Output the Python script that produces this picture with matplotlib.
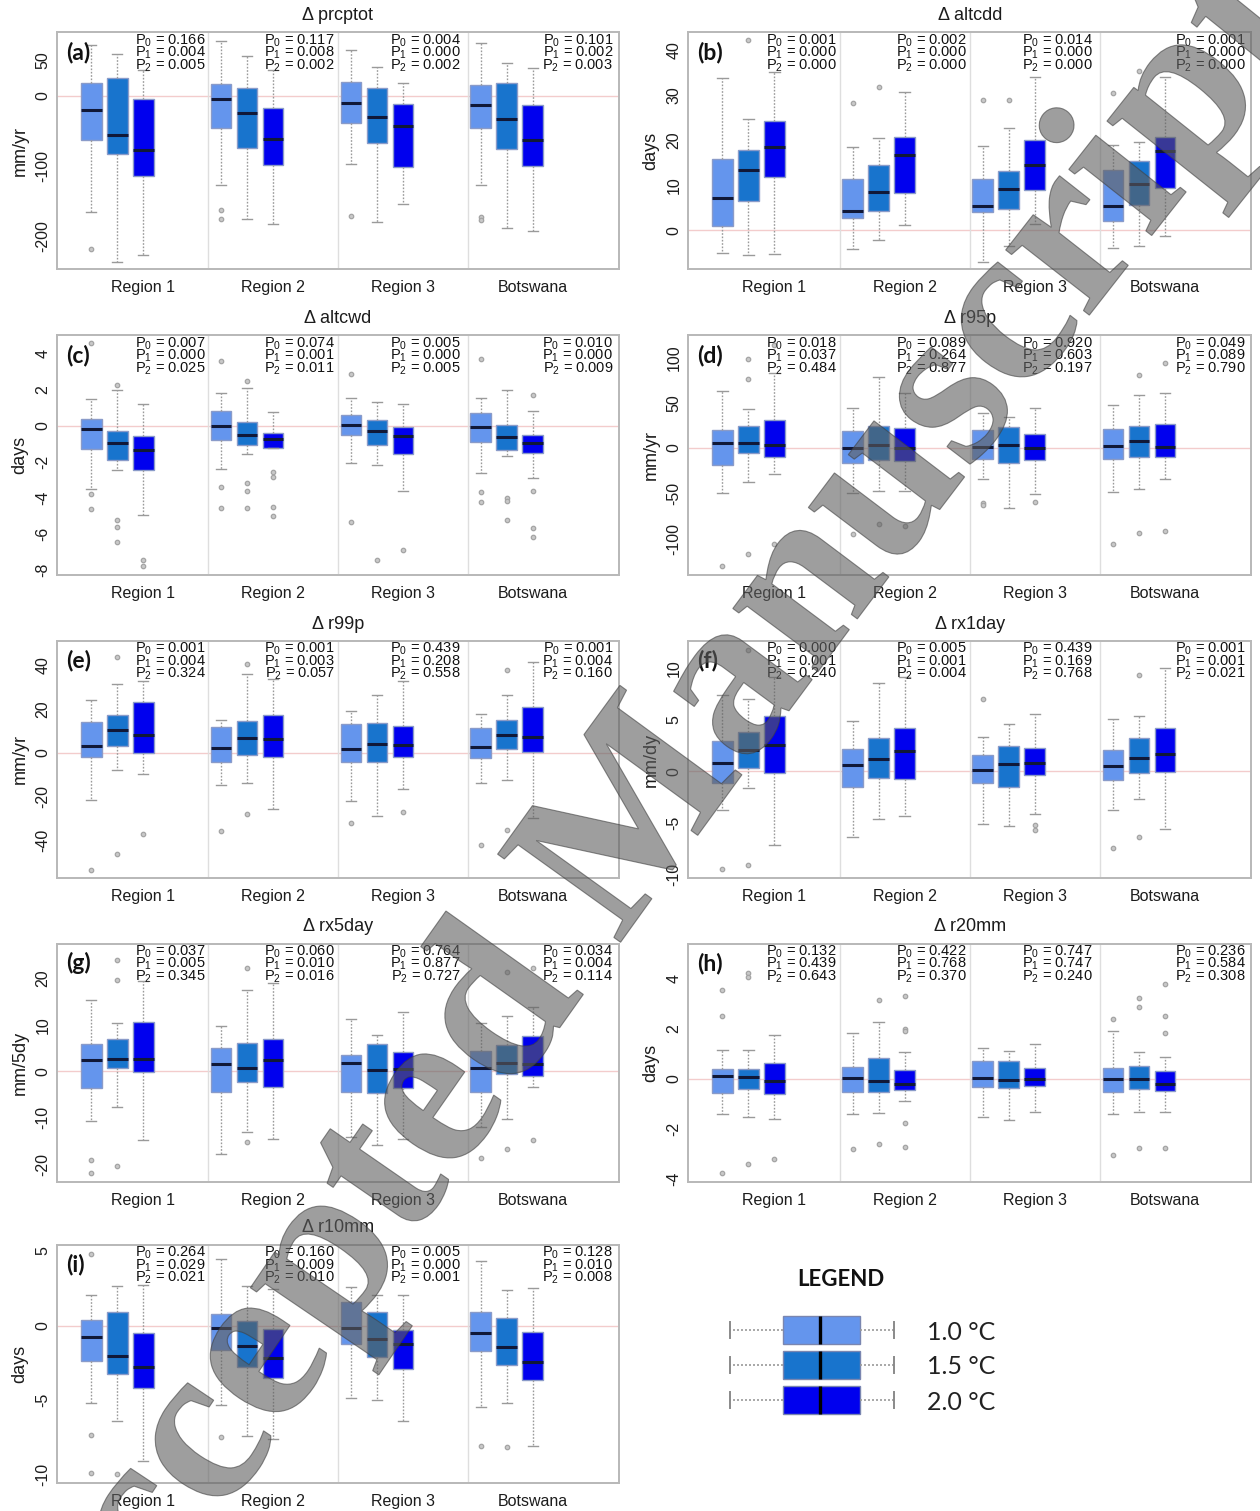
import numpy as np
import matplotlib
matplotlib.use("Agg")
import matplotlib.pyplot as plt
from matplotlib.patches import PathPatch
from matplotlib.path import Path
from matplotlib.textpath import TextPath
from matplotlib.font_manager import FontProperties
from matplotlib.transforms import IdentityTransform, blended_transform_factory

plt.rcParams['font.family'] = ['Liberation Sans', 'DejaVu Sans']
plt.rcParams['mathtext.fontset'] = 'custom'
plt.rcParams['mathtext.rm'] = 'Liberation Sans'
plt.rcParams['mathtext.it'] = 'Liberation Sans:italic'
plt.rcParams['mathtext.bf'] = 'Liberation Sans:bold'
plt.rcParams['axes.unicode_minus'] = False

GROUPS = ["Region 1", "Region 2", "Region 3", "Botswana"]
WARMING = ["1.0 °C", "1.5 °C", "2.0 °C"]
COLORS = ["#6495ED", "#1874CD", "#0000EE"]

# box stats per panel: (whisker low, q1, median, q3, whisker high), 3 boxes x 4 groups
PRCPTOT_STATS = [(-166, -63.5, -20.4, 17.5, 72), (-236, -83.4, -55.5, 25.6, 59), (-226.5, -113.7, -76.8, -4.7, 36),
                 (-127.5, -46.4, -4.3, 16, 77.7), (-175, -74.9, -25, 11.4, 56.4), (-182.5, -98.6, -62, -17, 36.5),
                 (-96.7, -39.3, -10.9, 19, 64.5), (-179.6, -66.8, -30.8, 10.9, 41.2), (-154.5, -101.9, -43, -11.4, 18.5),
                 (-127.5, -45.5, -13.7, 14.7, 74.4), (-187.7, -75.4, -33.6, 17.5, 46), (-192.4, -99.5, -63.5, -12.8, 39.8)]
PRCPTOT_FLIERS = [[-218], [], [], [-162.6, -175], [], [], [-170.6], [], [], [-172, -176.8], [], []]
PRCPTOT_P = [[0.166, 0.004, 0.005], [0.117, 0.008, 0.002], [0.004, 0.000, 0.002], [0.101, 0.002, 0.003]]

ALTCDD_STATS = [(-4.9, 1.0, 7.1, 15.8, 33.8), (-5.5, 6.6, 13.3, 17.8, 24.8), (-5.2, 11.8, 18.6, 24.2, 35.2),
                (-4.1, 2.8, 4.3, 11.3, 18.6), (-2.0, 4.4, 8.6, 14.5, 20.4), (1.3, 8.2, 16.7, 20.8, 30.6),
                (-6.9, 4.1, 5.5, 11.4, 18.8), (-3.5, 4.7, 9.1, 13.2, 22.8), (1.5, 8.9, 14.4, 20.0, 34.1),
                (-3.8, 2.2, 5.5, 13.3, 18.9), (-3.5, 5.7, 10.3, 15.3, 19.7), (-1.3, 9.5, 17.7, 20.8, 33.9)]
ALTCDD_FLIERS = [[], [42.1], [], [28.2], [31.7], [], [29.0], [29.0], [], [30.4], [35.4], []]
ALTCDD_P = [[0.001, 0.000, 0.000], [0.002, 0.000, 0.000], [0.014, 0.000, 0.000], [0.001, 0.000, 0.000]]

ALTCWD_STATS = [(-3.55, -1.28, -0.22, 0.35, 1.47), (-2.47, -1.93, -0.95, -0.33, 2.0), (-4.95, -2.49, -1.34, -0.58, 1.17),
                (-2.42, -0.8, 0.0, 0.8, 1.82), (-1.6, -1.08, -0.52, 0.17, 2.08), (-1.25, -1.25, -0.76, -0.41, 0.73),
                (-2.07, -0.5, 0.04, 0.6, 1.54), (-2.2, -1.08, -0.3, 0.33, 1.3), (-3.65, -1.56, -0.6, -0.07, 1.17),
                (-2.66, -0.89, -0.07, 0.69, 1.54), (-1.67, -1.34, -0.65, 0.02, 1.97), (-2.92, -1.53, -0.99, -0.52, 0.82)]
ALTCWD_FLIERS = [[4.58, -3.8, -4.63], [2.25, -5.23, -5.62, -6.49], [-7.46, -7.78],
                 [3.57, -3.42, -4.6], [2.49, -3.18, -3.63, -4.6], [-2.6, -2.88, -4.5, -5.02],
                 [2.87, -5.34], [-7.48], [-6.9],
                 [3.7, -3.7, -4.26], [-4.02, -4.2, -5.27], [1.67, -3.61, -5.69, -6.2]]
ALTCWD_P = [[0.007, 0.000, 0.025], [0.074, 0.001, 0.011], [0.005, 0.000, 0.005], [0.010, 0.000, 0.009]]

R95P_STATS = [(-49.7, -19.0, 5.9, 20.1, 62.9), (-38.0, -5.1, 5.1, 23.8, 42.8), (-28.9, -9.9, 2.9, 31.1, 83),
              (-49.7, -16.8, 0.4, 18.3, 43.9), (-47.5, -13.2, 3.7, 23.8, 77.9), (-47.2, -13.9, 0.4, 21.6, 61.1),
              (-34.0, -12.1, 1.5, 19.4, 39.1), (-66.2, -16.8, 3.3, 23.4, 34.4), (-50.5, -13.5, -0.4, 15.4, 44.6),
              (-49, -12.4, 2.2, 20.5, 47.9), (-45.7, -9.9, 7.3, 23.8, 58.5), (-34.4, -9.9, 0.7, 26, 60.3)]
R95P_FLIERS = [[-129.8], [97.6, 76.4, -117], [114, -105.7],
               [-95], [-84.1], [-85.9],
               [-60.7, -63.3], [], [-60],
               [-105.3], [80.4, -93.2], [93.2, -91.4]]
R95P_P = [[0.018, 0.037, 0.484], [0.089, 0.264, 0.877], [0.920, 0.603, 0.197], [0.049, 0.089, 0.790]]

R99P_STATS = [(-21.6, -2.1, 3.2, 13.9, 24.4), (-7.8, 3.2, 10.3, 17.2, 31.3), (-9.8, 0.0, 8.3, 23.1, 33),
              (-14.7, -4.3, 2.1, 11.8, 14.9), (-13.9, -1.2, 6.7, 14.4, 36.2), (-25.7, -1.8, 6.4, 17.2, 33.6),
              (-22.1, -4.3, 1.7, 13.3, 19.3), (-28.7, -4.3, 4.0, 13.5, 26.7), (-16.4, -1.7, 3.7, 12.4, 33.1),
              (-13.9, -2.5, 2.9, 11.5, 17.9), (-12.4, 1.8, 8.0, 15.2, 26.7), (-30.0, 0.3, 7.4, 20.8, 41.5)]
R99P_FLIERS = [[-53.5], [43.8, -46.1], [-37.1], [-35.6], [40.5, -28.2], [],
               [-31.9], [], [-27.1], [-42], [37.9, -35.4], []]
R99P_P = [[0.001, 0.004, 0.324], [0.001, 0.003, 0.057], [0.439, 0.208, 0.558], [0.001, 0.004, 0.160]]

RX1DAY_STATS = [(-3.75, -1.15, 0.83, 2.88, 7.34), (-1.6, 0.26, 2.05, 3.75, 7.0), (-7.15, -0.22, 2.53, 5.32, 9.1),
                (-6.35, -1.54, 0.58, 2.18, 4.84), (-4.68, -0.7, 1.19, 3.24, 8.56), (-4.3, -0.77, 1.96, 4.13, 9.1),
                (-5.1, -1.19, 0.13, 1.54, 3.3), (-5.35, -1.57, 0.7, 2.4, 4.58), (-4.13, -0.42, 0.74, 2.21, 5.51),
                (-3.75, -0.87, 0.45, 2.02, 5.03), (-2.66, -0.19, 1.31, 3.24, 5.32), (-5.58, -0.06, 1.7, 4.2, 9.97)]
RX1DAY_FLIERS = [[-9.52], [11.7, -9.1], [], [], [], [],
                 [6.96], [], [-5.19, -5.7], [-7.47], [9.33, -6.38], []]
RX1DAY_P = [[0.000, 0.001, 0.240], [0.005, 0.001, 0.004], [0.439, 0.169, 0.768], [0.001, 0.001, 0.021]]

RX5DAY_STATS = [(-10.7, -3.5, 2.44, 5.95, 15.3), (-7.6, 0.8, 2.72, 6.9, 10.3), (-14.8, -0.07, 2.72, 10.6, 19.4),
                (-17.8, -4.37, 1.58, 5.0, 9.68), (-13.1, -2.22, 0.72, 6.16, 17.6), (-14.55, -3.3, 2.37, 6.95, 19.0),
                (-14.2, -4.44, 1.86, 3.51, 11.3), (-15.8, -4.73, 0.29, 5.88, 7.89), (-14.5, -3.58, 0.43, 4.09, 12.8),
                (-12.0, -4.44, 0.72, 4.44, 10.5), (-10.2, -0.65, 1.79, 5.6, 12.0), (-3.44, -0.93, 1.65, 7.6, 13.8)]
RX5DAY_FLIERS = [[-19.0, -21.9], [24.0, 19.6, -20.3], [], [], [22.2, -15.3], [],
                 [], [], [], [-18.7], [21.3, -16.7], [22.2, -14.7]]
RX5DAY_P = [[0.037, 0.005, 0.345], [0.060, 0.010, 0.016], [0.764, 0.877, 0.727], [0.034, 0.004, 0.114]]

R20MM_STATS = [(-1.42, -0.59, 0.12, 0.4, 1.15), (-1.55, -0.41, 0.07, 0.4, 1.15), (-1.62, -0.62, -0.08, 0.64, 1.73),
               (-1.4, -0.54, 0.01, 0.45, 1.83), (-1.36, -0.52, -0.11, 0.82, 2.25), (-0.88, -0.47, -0.2, 0.36, 1.06),
               (-1.55, -0.32, 0.03, 0.7, 1.23), (-1.65, -0.37, -0.04, 0.7, 1.1), (-1.34, -0.31, 0.0, 0.43, 1.39),
               (-1.42, -0.52, -0.01, 0.44, 1.91), (-1.35, -0.41, 0.0, 0.51, 1.06), (-1.35, -0.48, -0.2, 0.32, 0.86)]
R20MM_FLIERS = [[3.53, 2.52, -3.79], [4.24, 4.07, -3.42], [-3.22],
                [-2.82], [3.13, -2.62], [3.29, 1.99, 1.89, -1.78, -2.73],
                [], [], [],
                [2.37, -3.05], [3.24, 2.88, -2.78], [3.77, 2.49, 1.82, -2.78]]
R20MM_P = [[0.132, 0.439, 0.643], [0.422, 0.768, 0.370], [0.747, 0.747, 0.240], [0.236, 0.584, 0.308]]

R10MM_STATS = [(-5.2, -2.37, -0.76, 0.36, 2.08), (-6.38, -3.24, -2.03, 0.92, 2.66), (-9.1, -4.17, -2.81, -0.49, 2.72),
               (-5.31, -1.65, -0.18, 0.74, 4.44), (-7.39, -2.77, -1.34, 0.33, 2.66), (-7.61, -3.5, -2.19, -0.2, 2.46),
               (-4.89, -1.27, -0.18, 1.58, 2.61), (-4.98, -2.14, -0.89, 0.89, 2.05), (-6.38, -2.92, -1.23, -0.27, 2.05),
               (-5.49, -1.7, -0.47, 0.89, 4.33), (-5.2, -2.63, -1.45, 0.51, 2.37), (-8.06, -3.62, -2.43, -0.45, 2.52)]
R10MM_FLIERS = [[4.78, -7.37, -9.89], [-9.96], [], [-7.46], [], [],
                [], [], [], [-8.06], [-8.15], []]
R10MM_P = [[0.264, 0.029, 0.021], [0.160, 0.009, 0.010], [0.005, 0.000, 0.001], [0.128, 0.010, 0.008]]

PANELS = [
    dict(tag="(a)", title="Δ prcptot", ylabel="mm/yr", yticks=[-200, -100, 0, 50], ylim=(-247, 90),
         stats=PRCPTOT_STATS, fliers=PRCPTOT_FLIERS, p=PRCPTOT_P),
    dict(tag="(b)", title="Δ altcdd", ylabel="days", yticks=[0, 10, 20, 30, 40], ylim=(-8.6, 43.9),
         stats=ALTCDD_STATS, fliers=ALTCDD_FLIERS, p=ALTCDD_P),
    dict(tag="(c)", title="Δ altcwd", ylabel="days", yticks=[-8, -6, -4, -2, 0, 2, 4], ylim=(-8.3, 5.0),
         stats=ALTCWD_STATS, fliers=ALTCWD_FLIERS, p=ALTCWD_P),
    dict(tag="(d)", title="Δ r95p", ylabel="mm/yr", yticks=[-100, -50, 0, 50, 100], ylim=(-140, 124),
         stats=R95P_STATS, fliers=R95P_FLIERS, p=R95P_P),
    dict(tag="(e)", title="Δ r99p", ylabel="mm/yr", yticks=[-40, -20, 0, 20, 40], ylim=(-57.3, 51.2),
         stats=R99P_STATS, fliers=R99P_FLIERS, p=R99P_P),
    dict(tag="(f)", title="Δ rx1day", ylabel="mm/dy", yticks=[-10, -5, 0, 5, 10], ylim=(-10.35, 12.6),
         stats=RX1DAY_STATS, fliers=RX1DAY_FLIERS, p=RX1DAY_P),
    dict(tag="(g)", title="Δ rx5day", ylabel="mm/5dy", yticks=[-20, -10, 0, 10, 20], ylim=(-23.7, 27.5),
         stats=RX5DAY_STATS, fliers=RX5DAY_FLIERS, p=RX5DAY_P),
    dict(tag="(h)", title="Δ r20mm", ylabel="days", yticks=[-4, -2, 0, 2, 4], ylim=(-4.12, 5.4),
         stats=R20MM_STATS, fliers=R20MM_FLIERS, p=R20MM_P),
    dict(tag="(i)", title="Δ r10mm", ylabel="days", yticks=[-10, -5, 0, 5], ylim=(-10.56, 5.4),
         stats=R10MM_STATS, fliers=R10MM_FLIERS, p=R10MM_P),
]

# layout (pixels of the 1260x1511 canvas)
FIG_W, FIG_H = 1260, 1511
COL_X = [(57.4, 618.5), (688.5, 1251)]
ROW_Y = [(32.3, 269.3), (335.5, 575), (641, 878), (943.5, 1181.5), (1245, 1483)]
POSITIONS = [1, 2, 3, 6, 7, 8, 11, 12, 13, 16, 17, 18]
LABEL_POS = [3, 8, 13, 18]
SEPARATORS = [5.5, 10.5, 15.5]
P_X = [5.4, 10.38, 15.23, 21.09]

EDGE = "#8a9bc9"
MEDIAN = "#101838"
WHISK = "#9a9a9a"
FLIER = "#a4a4a4"
TEXT = "#1c1c1c"


def px_rect(x0, y0, x1, y1):
    return [x0 / FIG_W, 1 - y1 / FIG_H, (x1 - x0) / FIG_W, (y1 - y0) / FIG_H]


def draw_panel(ax, spec):
    stats = [dict(whislo=s[0], q1=s[1], med=s[2], q3=s[3], whishi=s[4], fliers=f)
             for s, f in zip(spec["stats"], spec["fliers"])]
    ax.axhline(0, color="#f3cccc", lw=1.0, zorder=0)
    for x in SEPARATORS:
        ax.axvline(x, color="#dedede", lw=1.0, zorder=0)
    bp = ax.bxp(stats, positions=POSITIONS, widths=0.8, patch_artist=True, capwidths=0.4,
                boxprops=dict(edgecolor=EDGE, linewidth=1.0),
                medianprops=dict(color=MEDIAN, linewidth=2.2, solid_capstyle="butt"),
                whiskerprops=dict(color=WHISK, linewidth=1.0, linestyle=(0, (1.2, 1.2))),
                capprops=dict(color=WHISK, linewidth=1.0),
                flierprops=dict(marker="o", markersize=3.2, markerfacecolor="#c8c8c8",
                                markeredgecolor=FLIER, markeredgewidth=0.9))
    for i, patch in enumerate(bp["boxes"]):
        patch.set_facecolor(COLORS[i % 3])

    ax.set_xlim(-0.3, 21.3)
    ax.set_ylim(*spec["ylim"])
    ax.set_xticks(LABEL_POS, GROUPS)
    ax.set_yticks(spec["yticks"])
    ax.tick_params(axis="x", length=0, pad=8, labelsize=11.5, labelcolor=TEXT)
    ax.tick_params(axis="y", length=0, pad=5, labelsize=11.5, labelcolor=TEXT, labelrotation=90)
    for lab in ax.get_yticklabels():
        lab.set_va("center")
    for sp in ax.spines.values():
        sp.set_color("#b8b8b8")
        sp.set_linewidth(1.4)

    h = ax.get_position().height * FIG_H
    w = ax.get_position().width * FIG_W
    ax.set_ylabel(spec["ylabel"], fontsize=13, color=TEXT)
    ax.yaxis.set_label_coords(-29 / w, 0.5)
    ax.text(0.5, 1 + 17 / h, spec["title"], transform=ax.transAxes, ha="center", va="center",
            fontsize=13, color=TEXT)
    ax.text(0.016, 1 - 19.7 / h, spec["tag"], transform=ax.transAxes, ha="left", va="center",
            fontsize=16.5, fontweight="bold", family=["Lato", "DejaVu Sans"], color="#111111")

    trans = blended_transform_factory(ax.transData, ax.transAxes)
    for g, pvals in enumerate(spec["p"]):
        for k, p in enumerate(pvals):
            off = 12.0 + 12.4 * k
            ax.text(P_X[g], 1 - off / h, rf"P$_{k}$ = {p:.3f}", transform=trans, ha="right",
                    va="baseline", fontsize=10.5, color="#111111")


def draw_legend(fig):
    fig.text(841 / FIG_W, 1 - 1280 / FIG_H, "LEGEND", ha="center", va="center", fontsize=16,
             fontweight="bold", family=["Lato", "DejaVu Sans"], color="#111111")
    ax = fig.add_axes(px_rect(727, 1312.5, 897, 1417.5))
    glyph = [dict(whislo=0.2, q1=3.3, med=5.45, q3=7.8, whishi=9.8, fliers=[]) for _ in WARMING]
    kw = dict(positions=[1, 2, 3], widths=0.78, patch_artist=True, capwidths=0.45,
              boxprops=dict(edgecolor="#7a86b0", linewidth=1.0),
              medianprops=dict(color="#000000", linewidth=2.4, solid_capstyle="butt"),
              whiskerprops=dict(color=WHISK, linewidth=1.2, linestyle=(0, (1.2, 1.2))),
              capprops=dict(color="#8a8a8a", linewidth=1.4))
    try:
        bp = ax.bxp(glyph, orientation="horizontal", **kw)
    except TypeError:
        bp = ax.bxp(glyph, vert=False, **kw)
    for i, patch in enumerate(bp["boxes"]):
        patch.set_facecolor(COLORS[i])
    ax.set_xlim(0, 10)
    ax.set_ylim(3.5, 0.5)
    ax.axis("off")
    for i, lab in enumerate(WARMING):
        y = 1330 + 35 * i
        fig.text(927 / FIG_W, 1 - (y + 2) / FIG_H, lab, ha="left", va="center", fontsize=18,
                 family=["Lato", "DejaVu Sans"], color="#222222")


def draw_watermark(fig):
    # curved "Accepted Manuscript" stamp laid along a circular arc
    fp = FontProperties(family="Liberation Serif", weight="bold")
    em = 231.0
    word = "Accepted Manuscript"
    tp = TextPath((0, 0), word, size=em, prop=fp)
    c2 = TextPath((0, 0), "Acc", size=em, prop=fp).get_extents()
    u0 = c2.x1 - 0.21 * em          # centre of the second 'c'
    vc = 0.23 * em                  # mid x-height above baseline
    cx, cy, R = 16384.7, FIG_H - 12236.5, 19445.6
    phi0 = np.arctan2((FIG_H - 1450) - cy, 205 - cx)
    v = tp.vertices
    phi = phi0 - (v[:, 0] - u0) / R
    r = R + v[:, 1] - vc
    verts = np.column_stack([cx + r * np.cos(phi), cy + r * np.sin(phi)])
    patch = PathPatch(Path(verts, tp.codes), transform=IdentityTransform(),
                      facecolor=(0.37, 0.37, 0.37, 0.6), edgecolor=(0.25, 0.25, 0.25, 0.6),
                      linewidth=0.8, zorder=50)
    fig.add_artist(patch)


fig = plt.figure(figsize=(FIG_W / 100, FIG_H / 100), dpi=100)
for idx, spec in enumerate(PANELS):
    row, col = divmod(idx, 2)
    x0, x1 = COL_X[col]
    y0, y1 = ROW_Y[row]
    ax = fig.add_axes(px_rect(x0, y0, x1, y1))
    draw_panel(ax, spec)

draw_legend(fig)
draw_watermark(fig)

fig.savefig("out.png", dpi=100)
